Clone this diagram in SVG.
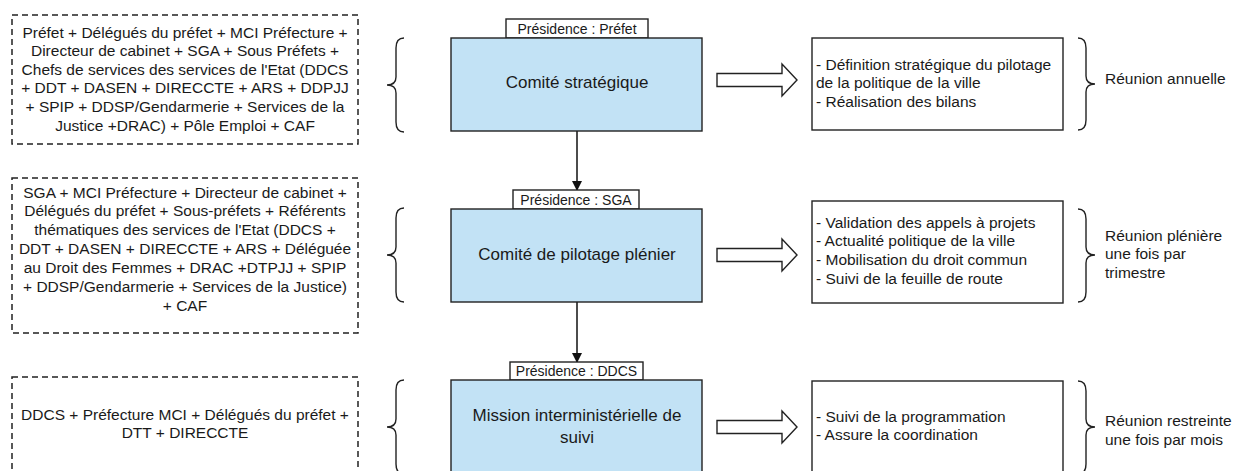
<svg xmlns="http://www.w3.org/2000/svg" width="1233" height="471" viewBox="0 0 1233 471">
<defs>
<style>
text{font-family:"Liberation Sans",Arial,sans-serif;fill:#1a1a1a}
.body{font-size:15.5px}
.c{text-anchor:middle}
.title{font-size:17px;text-anchor:middle}
.lab{font-size:14px;text-anchor:middle}
.dash{fill:#fff;stroke:#222;stroke-width:1.5;stroke-dasharray:6 4}
.blue{fill:#c2e2f5;stroke:#222;stroke-width:1.4}
.box{fill:#fff;stroke:#222;stroke-width:1.4}
.brace{fill:none;stroke:#222;stroke-width:1.4}
.hollow{fill:#fff;stroke:#222;stroke-width:1.4;stroke-linejoin:miter}
.line{stroke:#111;stroke-width:1.5;fill:none}
</style>
<marker id="ah" markerWidth="10" markerHeight="12" refX="9" refY="5" orient="auto" markerUnits="userSpaceOnUse">
<path d="M0,0 L10,5 L0,10 Z" fill="#111"/>
</marker>
<path id="hol" d="M0,-6.5 L65,-6.5 L65,-16 L80,0 L65,16 L65,6.5 L0,6.5 Z"/>
</defs>
<rect width="1233" height="471" fill="#fff"/>

<g id="connectors">
<line class="line" x1="577" y1="131" x2="577" y2="190" marker-end="url(#ah)"/>
<line class="line" x1="577" y1="302" x2="577" y2="362" marker-end="url(#ah)"/>
<use href="#hol" class="hollow" transform="translate(717,80)"/>
<use href="#hol" class="hollow" transform="translate(717,255)"/>
<use href="#hol" class="hollow" transform="translate(717,427)"/>
</g>

<g id="members1">
<rect class="dash" x="12" y="15" width="346" height="129"/>
<text class="body c" x="185" y="37.5">Préfet + Délégués du préfet + MCI Préfecture +</text>
<text class="body c" x="185" y="56.1">Directeur de cabinet + SGA + Sous Préfets +</text>
<text class="body c" x="185" y="74.7">Chefs de services des services de l'Etat (DDCS</text>
<text class="body c" x="185" y="93.3">+ DDT + DASEN + DIRECCTE + ARS + DDPJJ</text>
<text class="body c" x="185" y="111.9">+ SPIP + DDSP/Gendarmerie + Services de la</text>
<text class="body c" x="185" y="130.5">Justice +DRAC) + Pôle Emploi + CAF</text>
</g>
<g id="brace-l1"><path class="brace" d="M404,38 Q396,38 396,48 L396,77 Q396,85 387,85 Q396,85 396,93 L396,122 Q396,132 404,132"/></g>
<g id="comite-strategique">
<rect class="box" x="506" y="19" width="142" height="19"/>
<text class="lab" x="577" y="33.5">Présidence : Préfet</text>
<rect class="blue" x="451" y="38" width="251" height="93"/>
<text class="title" x="577" y="88">Comité stratégique</text>
</g>
<g id="missions1">
<rect class="box" x="812" y="38" width="251" height="92"/>
<text class="body" x="816" y="69.5">- Définition stratégique du pilotage</text>
<text class="body" x="816" y="88">de la politique de la ville</text>
<text class="body" x="816" y="106.5">- Réalisation des bilans</text>
</g>
<g id="brace-r1"><path class="brace" d="M1078,38 Q1086,38 1086,48 L1086,76 Q1086,84 1095,84 Q1086,84 1086,92 L1086,120 Q1086,130 1078,130"/></g>
<g id="freq1"><text class="body" x="1105" y="83.5">Réunion annuelle</text></g>

<g id="members2">
<rect class="dash" x="12" y="178" width="346" height="155"/>
<text class="body c" x="185" y="197.5">SGA + MCI Préfecture + Directeur de cabinet +</text>
<text class="body c" x="185" y="216.4">Délégués du préfet + Sous-préfets + Référents</text>
<text class="body c" x="185" y="235.3">thématiques des services de l'Etat (DDCS +</text>
<text class="body c" x="185" y="254.2">DDT + DASEN + DIRECCTE + ARS + Déléguée</text>
<text class="body c" x="185" y="273.1">au Droit des Femmes + DRAC +DTPJJ + SPIP</text>
<text class="body c" x="185" y="292">+ DDSP/Gendarmerie + Services de la Justice)</text>
<text class="body c" x="185" y="310.9">+ CAF</text>
</g>
<g id="brace-l2"><path class="brace" d="M404,208 Q396,208 396,218 L396,247 Q396,255 387,255 Q396,255 396,263 L396,292 Q396,302 404,302"/></g>
<g id="comite-pilotage">
<rect class="box" x="513" y="190" width="126" height="19"/>
<text class="lab" x="576" y="204.5">Présidence : SGA</text>
<rect class="blue" x="451" y="209" width="251" height="93"/>
<text class="title" x="577" y="260">Comité de pilotage plénier</text>
</g>
<g id="missions2">
<rect class="box" x="812" y="201" width="251" height="102"/>
<text class="body" x="816" y="227.5">- Validation des appels à projets</text>
<text class="body" x="816" y="246.2">- Actualité politique de la ville</text>
<text class="body" x="816" y="264.9">- Mobilisation du droit commun</text>
<text class="body" x="816" y="283.6">- Suivi de la feuille de route</text>
</g>
<g id="brace-r2"><path class="brace" d="M1078,209 Q1086,209 1086,219 L1086,247 Q1086,255 1095,255 Q1086,255 1086,263 L1086,292 Q1086,302 1078,302"/></g>
<g id="freq2">
<text class="body" x="1105" y="240.5">Réunion plénière</text>
<text class="body" x="1105" y="259.2">une fois par</text>
<text class="body" x="1105" y="277.9">trimestre</text>
</g>

<g id="members3">
<rect class="dash" x="12" y="377" width="346" height="110"/>
<text class="body c" x="185" y="419.5">DDCS + Préfecture MCI + Délégués du préfet +</text>
<text class="body c" x="185" y="438">DTT + DIRECCTE</text>
</g>
<g id="brace-l3"><path class="brace" d="M404,380 Q396,380 396,390 L396,419 Q396,427 387,427 Q396,427 396,435 L396,464 Q396,474 404,474"/></g>
<g id="mission-suivi">
<rect class="box" x="510" y="362" width="133" height="18"/>
<text class="lab" x="576.5" y="376">Présidence : DDCS</text>
<rect class="blue" x="451" y="380" width="251" height="110"/>
<text class="title" x="577" y="421">Mission interministérielle de</text>
<text class="title" x="577" y="443">suivi</text>
</g>
<g id="missions3">
<rect class="box" x="812" y="381" width="251" height="110"/>
<text class="body" x="816" y="421.5">- Suivi de la programmation</text>
<text class="body" x="816" y="439.5">- Assure la coordination</text>
</g>
<g id="brace-r3"><path class="brace" d="M1078,381 Q1086,381 1086,391 L1086,419 Q1086,427 1095,427 Q1086,427 1086,435 L1086,464 Q1086,474 1078,474"/></g>
<g id="freq3">
<text class="body" x="1105" y="425.5">Réunion restreinte</text>
<text class="body" x="1105" y="444.5">une fois par mois</text>
</g>
</svg>
